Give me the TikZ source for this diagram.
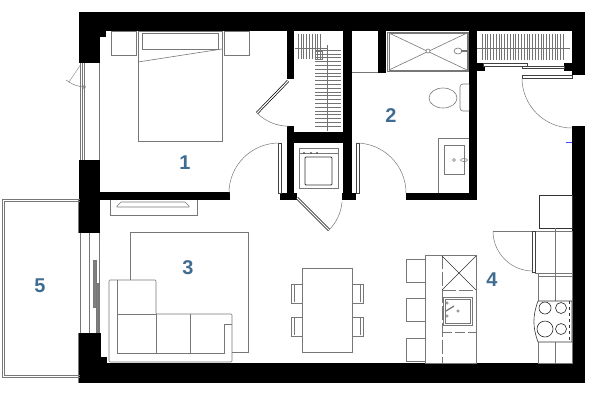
\documentclass[tikz,border=0pt]{standalone}
\usepackage{fontspec}
\setmainfont{Liberation Sans}
\usepackage{xcolor}
\definecolor{roomblue}{HTML}{3F6C91}
\definecolor{linegray}{HTML}{777777}
\tikzset{
 wall/.style={fill=black,draw=none},
 furn/.style={draw=linegray,line width=0.6pt},
 thin line/.style={draw=linegray,line width=0.4pt},
 blackline/.style={draw=black!80,line width=0.6pt},
 door/.style={draw=black!75,fill=white,line width=0.6pt},
 leaf/.style={draw=black,double=white,line width=0.7pt,double distance=1.2pt},
 swing/.style={draw=linegray,line width=0.5pt},
 hatch/.style={draw=black!55,line width=0.5pt},
 room/.style={text=roomblue,font=\fontsize{20}{20}\selectfont\bfseries,inner sep=0pt}
}
\begin{document}
\begin{tikzpicture}[x=1bp,y=-1bp]
\useasboundingbox (0,0) rectangle (600,400);
\foreach\r in {{(79,12) rectangle (585,31)},{(79,363) rectangle (585,383)},
 {(79,12) rectangle (100,63)},{(100,31) rectangle (106,37)},{(79,160) rectangle (100,233)},
 {(79,333) rectangle (101,383)},{(101,357) rectangle (107,363)},{(100,192) rectangle (230,200)},
 {(572,12) rectangle (585,75)},{(572,126) rectangle (585,383)},
 {(287,31) rectangle (294,79)},{(287,126) rectangle (294,200)},{(280,193) rectangle (297,200)},
 {(343,31) rectangle (352,200)},{(342,193) rectangle (356,200)},{(294,132) rectangle (343,143)},
 {(378,31) rectangle (386,73)},{(469,31) rectangle (477,200)},{(406,193) rectangle (477,200)},
 {(475,63) rectangle (485,71)},{(564,63) rectangle (572,71)}}
 \fill[wall] \r;
\draw[furn] (138,31) rectangle (222,141);
\draw[furn] (138,62)--(222,49);
\draw[furn] (142,33) rectangle (218,49);
\draw[furn] (111,31) rectangle (136,55);
\draw[furn] (224,31) rectangle (249,55);
\foreach\x in {80,82,84,99}
 \draw[furn] (\x,63)--(\x,160);
\draw[thin line] (81,64)--(69,82);
\draw[swing] (66,80) to[bend right=15] (84,87);
\draw[thin line] (84,87) circle (1.5);
\draw[leaf] (288,81)--(257,113);
\draw[swing] (257,113) arc (135:90:45);
\draw[door] (278,143) rectangle (281,193);
\draw[swing] (279,143) arc (270:180:50);
\draw[door] (356,143) rectangle (359,193);
\draw[swing] (356,143) arc (270:360:50);
\draw[leaf] (297,198)--(329,230);
\draw[swing] (329,230) arc (45:5:45);
\foreach\x in {298,300.8,...,323}
 \draw[hatch] (\x,34)--(\x,59);
\foreach\y in {50,53.8,...,128}
 \draw[hatch] (315,\y)--(341,\y);
\draw[hatch,line width=1pt] (295,48)--(327,48);
\draw[hatch,line width=1pt] (327,45)--(327,131);
\draw[thin line] (315,51) rectangle (322,59);
\foreach\x in {482,484.8,...,566}
 \draw[hatch] (\x,34)--(\x,60);
\draw[hatch,line width=1pt] (477,48)--(570,48);
\draw[door] (483,63) rectangle (527,66);
\draw[door] (522,66) rectangle (564,68);
\draw[door] (522,75.5) rectangle (572,78);
\draw[swing] (522,78) arc (180:90:50);
\draw[thin line] (352,72)--(378,72);
\draw[furn,fill=black!6] (387,32) rectangle (468,71.5);
\draw[furn,fill=white] (389,33) rectangle (467,70);
\draw[furn] (389,33)--(467,70);
\draw[furn] (389,70)--(467,33);
\draw[furn,fill=white] (428,51) circle (2);
\draw[linegray,line width=1.3pt] (417,71)--(468,71);
\draw[furn,fill=white] (458,51) ellipse (4 and 3);
\draw[hatch,line width=1.2pt] (461,51)--(468,51);
\draw[furn,fill=white,rounded corners=3pt] (469,84)--(460,84)--(460,111)--(469,111);
\draw[furn,fill=white] (443,98) ellipse (14 and 10);
\draw[furn] (438,193)--(438,138)--(469,138);
\draw[furn] (444,145) rectangle (464,174);
\draw[furn] (454,160) circle (1.5);
\draw[furn] (464,160) ellipse (3.5 and 1.5);
\draw[furn] (299,148) rectangle (338,188);
\draw[blackline,line width=0.8pt,rounded corners=1pt] (305,157) rectangle (332,185);
\draw[furn] (299,153)--(338,153);
\foreach\x in {304,311,317}
 \draw[black!70] (\x,153) circle (0.8);
\draw[blackline,line width=0.9pt] (539,195) rectangle (572,228);
\draw[furn] (535,231) rectangle (572,273);
\draw[door] (532,231) rectangle (535,272);
\draw[furn] (493,231)--(532,231);
\draw[swing] (493,231) arc (180:90:40);
\draw[furn] (538,273) rectangle (572,363);
\draw[furn] (538,276)--(572,276);
\draw[furn] (555,228)--(555,363);
\draw[blackline,fill=white] (538,301)--(572,301)--(572,342)--(538,342) to[bend left=20] (538,301);
\draw[blackline,dashed] (569,301)--(569,342);
\foreach\x/\y/\r in {545/308/6,561/308/5.5,545/329/8,561/329/5.5}
 \draw[black!85,line width=0.6pt] (\x,\y) circle (\r);
\draw[furn] (425,255) rectangle (476,363);
\draw[furn,dash pattern=on 14pt off 3pt] (442,255)--(442,363);
\draw[furn,dash pattern=on 14pt off 3pt] (442,255)--(476,255);
\draw[furn,dash pattern=on 14pt off 3pt] (442,290)--(476,290);
\draw[furn,dash pattern=on 10pt off 3pt] (442,332)--(476,332);
\draw[blackline] (442,256)--(476,290);
\draw[blackline] (476,256)--(442,290);
\draw[furn,fill=white] (443,297) rectangle (472,325);
\draw[furn] (445,299) rectangle (470,323);
\draw[furn] (447,303) circle (1.3) (447,316) circle (1.3) (458,311) circle (1.3);
\draw[hatch,line width=1.2pt] (446,311)--(454,306);
\foreach\y in {259,298,338}
 \draw[furn] (406,\y) rectangle (425,\y+23);
\draw[furn] (302,268) rectangle (352,352);
\foreach\y in {284,317}{
 \draw[furn] (291,\y) rectangle (302,\y+19);
 \draw[furn] (294,\y+1)--(294,\y+18);
 \draw[furn] (352,\y) rectangle (363,\y+19);
 \draw[furn] (360,\y+1)--(360,\y+18);
}
\draw[furn] (130,280)--(130,232)--(248,232)--(248,352)--(232,352);
\draw[furn,rounded corners=1pt] (109,280)--(156,280)--(156,314)--(232,314)--(232,362)--(109,362)--cycle;
\draw[furn] (117,280)--(117,353)--(224,353)--(224,324)--(232,324);
\draw[furn] (117,314)--(156,314);
\foreach\x in {156,190}
 \draw[furn] (\x,314)--(\x,353);
\draw[furn] (110,200)--(110,215)--(197,215)--(197,200);
\draw[furn] (117,206)--(121,202)--(185,202)--(189,206)--(189,207)--(117,207)--cycle;
\draw[furn,line width=0.9pt] (80,199)--(2,199)--(2,377)--(80,377);
\draw[furn] (80,201)--(4,201)--(4,375)--(80,375);
\foreach\x in {80,89,99}
 \draw[furn] (\x,233)--(\x,333);
\draw[furn] (78,200)--(78,233);
\draw[furn] (78,333)--(78,383);
\draw[linegray,fill=black!50,line width=0.4pt] (93.5,260) rectangle (96,307);
\draw[linegray,fill=black!50,line width=0.4pt] (96,283) rectangle (98.5,332);
\draw[blue!70,line width=0.4pt] (566,142)--(572,142);
\node[room] (bedroom) at (185,163) {1};
\node[room] (bath) at (391,116) {2};
\node[room] (living) at (188,268) {3};
\node[room] (kitchen) at (492,280) {4};
\node[room] (balcony) at (40,286) {5};
\end{tikzpicture}
\end{document}
